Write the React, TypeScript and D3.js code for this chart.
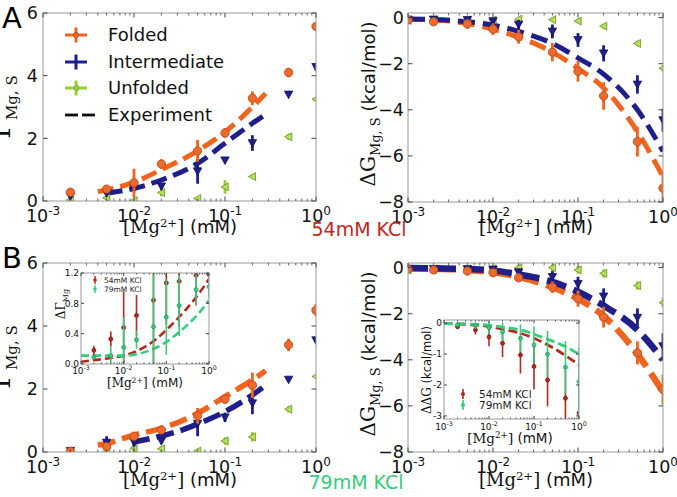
import React from 'react';
import * as d3 from 'd3';

const SANS = "'DejaVu Sans', sans-serif";
const SERIF = "'DejaVu Serif', serif";

const ORANGE = '#f0641e';
const ORANGE_EDGE = '#b8461a';
const NAVY = '#1f1f8c';
const YGREEN = '#9acd32';
const YGREEN_EDGE = '#6b8e23';
const RED = '#b5281e';
const MGREEN = '#36cc7c';

// ---------- data ----------
const X_MAIN = [0.002, 0.005, 0.01, 0.02, 0.05, 0.1, 0.2, 0.5, 1.0];
const X_DG = [0.001, 0.002, 0.005, 0.01, 0.02, 0.05, 0.1, 0.2, 0.5, 1.0];
const X_TICKS = [1e-3, 1e-2, 1e-1, 1];
const X_TICK_EXP = ['-3', '-2', '-1', '0'];

// Panel A left (54mM KCl), Gamma
const foldA_Y = [0.28, 0.38, 0.58, 1.18, 1.6, 2.17, 3.28, 4.1, 5.57];
const foldA_E = [0.06, 0.08, 0.45, 0.15, 0.35, 0.15, 0.22, 0.15, 0.12];
const interA_Y = [0.15, 0.25, 0.4, 0.47, 0.95, 1.3, 1.85, 3.4, 4.28];
const interA_E = [0.05, 0.05, 0.08, 0.08, 0.4, 0.06, 0.25, 0.05, 0.12];
const unfoldA_Y = [0.03, 0.1, 0.01, 0.27, 0.08, 0.45, 0.78, 2.05, 3.25];
const unfoldA_E = [0.04, 0.06, 0.04, 0.12, 0.04, 0.22, 0.06, 0.1, 0.05];
const expFoldA_X = [0.004, 0.006, 0.01, 0.02, 0.05, 0.1, 0.2, 0.28];
const expFoldA_Y = [0.3, 0.4, 0.6, 1.0, 1.6, 2.2, 3.0, 3.43];
const expInterA_X = [0.005, 0.01, 0.02, 0.05, 0.1, 0.2, 0.26];
const expInterA_Y = [0.25, 0.4, 0.67, 1.2, 1.84, 2.48, 2.7];

// Panel A right (54mM KCl), dG
const foldAR_Y = [-0.1, -0.18, -0.28, -0.5, -0.83, -1.5, -2.33, -3.4, -5.38, -7.4];
const foldAR_E = [0.05, 0.06, 0.2, 0.25, 0.3, 0.4, 0.45, 0.6, 0.65, 0.75];
const interAR_Y = [-0.08, -0.08, -0.1, -0.15, -0.3, -0.6, -0.97, -1.55, -2.9, -4.45];
const interAR_E = [0.03, 0.03, 0.05, 0.08, 0.2, 0.3, 0.3, 0.35, 0.4, 0.5];
const unfoldAR_Y = [-0.12, -0.1, -0.1, -0.1, -0.07, -0.09, -0.15, -0.37, -1.12, -2.2];
const unfoldAR_E = [0.05, 0.05, 0.05, 0.05, 0.05, 0.05, 0.08, 0.1, 0.12, 0.15];
const expFoldAR_Y = [-0.07, -0.1, -0.25, -0.5, -0.85, -1.5, -2.2, -3.05, -4.95, -6.9];
const expInterAR_Y = [-0.06, -0.08, -0.18, -0.32, -0.6, -1.12, -1.75, -2.45, -4.0, -5.8];

// Panel B left (79mM KCl), Gamma
const foldB_Y = [0.02, 0.17, 0.5, 0.7, 1.15, 1.68, 2.12, 3.4, 4.5];
const foldB_E = [0.03, 0.1, 0.12, 0.1, 0.25, 0.15, 0.4, 0.2, 0.2];
const interB_Y = [0.04, 0.3, 0.32, 0.35, 0.9, 1.1, 1.55, 2.3, 3.55];
const interB_E = [0.03, 0.2, 0.15, 0.05, 0.4, 0.15, 0.35, 0.05, 0.08];
const unfoldB_Y = [0.0, 0.0, 0.12, 0.1, 0.03, 0.35, 0.48, 1.36, 2.4];
const unfoldB_E = [0.03, 0.03, 0.12, 0.08, 0.04, 0.12, 0.15, 0.1, 0.05];
const expFoldB_X = [0.004, 0.005, 0.01, 0.02, 0.05, 0.1, 0.2, 0.28];
const expFoldB_Y = [0.22, 0.27, 0.54, 0.75, 1.23, 1.76, 2.29, 2.58];
const expInterB_X = [0.0095, 0.02, 0.03, 0.05, 0.1, 0.2, 0.26];
const expInterB_Y = [0.3, 0.51, 0.65, 0.89, 1.28, 1.81, 2.05];

// Panel B right (79mM KCl), dG
const foldBR_Y = [-0.06, -0.1, -0.15, -0.22, -0.44, -0.85, -1.35, -2.15, -3.7, -5.29];
const foldBR_E = [0.03, 0.05, 0.08, 0.1, 0.15, 0.25, 0.35, 0.45, 0.5, 0.65];
const interBR_Y = [-0.05, -0.05, -0.06, -0.08, -0.2, -0.4, -0.7, -1.25, -2.17, -3.41];
const interBR_E = [0.03, 0.03, 0.04, 0.05, 0.12, 0.25, 0.3, 0.35, 0.4, 0.55];
const unfoldBR_Y = [-0.1, -0.08, -0.05, -0.05, 0.0, 0.0, -0.1, -0.25, -0.78, -1.52];
const unfoldBR_E = [0.04, 0.04, 0.05, 0.06, 0.12, 0.14, 0.16, 0.18, 0.18, 0.2];
const expFoldBR_Y = [-0.03, -0.05, -0.1, -0.2, -0.4, -0.85, -1.35, -2.1, -3.75, -5.4];
const expInterBR_Y = [-0.02, -0.03, -0.06, -0.12, -0.3, -0.62, -1.05, -1.65, -2.7, -4.0];

// Inset B left: delta Gamma
const dGam54_Y = [0.18, 0.33, 0.48, 0.64, 0.84, 1.07, 1.09, 1.17, 1.18];
const dGam54_E = [0.06, 0.1, 0.48, 0.27, 0.85, 0.55, 0.6, 0.4, 0.1];
const dGam79_Y = [0.09, 0.11, 0.22, 0.32, 0.49, 0.62, 0.77, 0.98, 1.02];
const dGam79_E = [0.03, 0.12, 0.4, 0.12, 0.9, 0.5, 0.4, 0.2, 0.15];
const expDGam54_Y = [0.03, 0.05, 0.08, 0.11, 0.17, 0.3, 0.45, 0.62, 0.88, 1.12];
const expDGam79_Y = [0.11, 0.11, 0.11, 0.11, 0.13, 0.2, 0.29, 0.42, 0.63, 0.84];

// Inset B right: delta delta G
const ddG54_Y = [-0.12, -0.22, -0.45, -0.65, -1.03, -1.4, -1.84, -2.43, -2.91];
const ddG54_E = [0.05, 0.15, 0.3, 0.45, 0.6, 0.75, 0.85, 0.9, 1.0];
const ddG79_Y = [-0.05, -0.08, -0.15, -0.28, -0.49, -0.71, -1.0, -1.43, -1.89];
const ddG79_E = [0.05, 0.1, 0.2, 0.3, 0.45, 0.6, 0.75, 0.85, 1.1];
const expDD54_Y = [-0.02, -0.03, -0.06, -0.11, -0.2, -0.33, -0.49, -0.7, -1.05, -1.35];
const expDD79_Y = [-0.02, -0.02, -0.04, -0.07, -0.13, -0.22, -0.36, -0.52, -0.76, -1.0];

const GAMMA_TICKS = [0, 2, 4, 6];
const DG_TICKS = [0, -2, -4, -6, -8];
const DGAM_TICKS = [0, 0.4, 0.8, 1.2];
const DDG_TICKS = [0, -1, -2, -3];

// ---------- types ----------
type MarkerKind = 'circle' | 'down' | 'left';
interface SeriesDef {
  xs: number[]; ys: number[]; errs: number[];
  color: string; fill: string; edge: string; marker: MarkerKind; r: number; ew: number;
}
interface ExpDef { xs: number[]; ys: number[]; color: string; width: number; dash: string; }

function markerPath(kind: MarkerKind, x: number, y: number, r: number): string {
  if (kind === 'down') return `M${x - r},${y - r * 0.8}L${x + r},${y - r * 0.8}L${x},${y + r}Z`;
  if (kind === 'left') return `M${x - r},${y}L${x + r * 0.8},${y - r}L${x + r * 0.8},${y + r}Z`;
  return '';
}

function Marker({ kind, x, y, r, fill, edge }: { kind: MarkerKind; x: number; y: number; r: number; fill: string; edge: string }) {
  if (kind === 'circle') return <circle cx={x} cy={y} r={r} fill={fill} stroke={edge} strokeWidth={0.8} />;
  return <path d={markerPath(kind, x, y, r)} fill={fill} stroke={edge} strokeWidth={0.8} />;
}

interface PanelProps {
  id: string; x0: number; x1: number; y0: number; y1: number;
  yDomain: [number, number]; yTicks: number[]; yFmt: (v: number) => string;
  tickFont: number; supFont: number; supDy: number; xTickOff: number; yTickGap: number;
  majorLen: number; minorLen: number;
  series: SeriesDef[]; exps: ExpDef[]; bg?: boolean;
}

function Panel(p: PanelProps) {
  const sx = d3.scaleLog().domain([1e-3, 1]).range([p.x0, p.x1]);
  const sy = d3.scaleLinear().domain(p.yDomain).range([p.y1, p.y0]);
  const clipId = `clip-${p.id}`;
  const minors: number[] = [];
  for (const d of [1e-3, 1e-2, 1e-1]) for (let k = 2; k < 10; k++) minors.push(d * k);
  const line = d3.line<[number, number]>().x(d => sx(d[0])).y(d => sy(d[1])).curve(d3.curveMonotoneX);
  const tickColor = '#444';
  return (
    <g>
      <defs>
        <clipPath id={clipId}>
          <rect x={p.x0} y={p.y0} width={p.x1 - p.x0} height={p.y1 - p.y0} />
        </clipPath>
      </defs>
      {p.bg && <rect x={p.x0} y={p.y0} width={p.x1 - p.x0} height={p.y1 - p.y0} fill="#fff" />}
      <g clipPath={`url(#${clipId})`}>
        {p.exps.map((e, k) => (
          <path key={`e${k}`} d={line(e.xs.map((x, i) => [x, e.ys[i]] as [number, number])) || ''}
            fill="none" stroke={e.color} strokeWidth={e.width} strokeDasharray={e.dash} />
        ))}
        {p.series.map((s, k) => (
          <g key={`s${k}`}>
            {s.xs.map((x, i) => (
              <line key={`b${i}`} x1={sx(x)} x2={sx(x)} y1={sy(s.ys[i] - s.errs[i])} y2={sy(s.ys[i] + s.errs[i])}
                stroke={s.color} strokeWidth={s.ew} />
            ))}
            {s.xs.map((x, i) => (
              <Marker key={`m${i}`} kind={s.marker} x={sx(x)} y={sy(s.ys[i])} r={s.r} fill={s.fill} edge={s.edge} />
            ))}
          </g>
        ))}
      </g>
      <rect x={p.x0} y={p.y0} width={p.x1 - p.x0} height={p.y1 - p.y0} fill="none" stroke="#9a9a9a" strokeWidth={1} />
      {X_TICKS.map((t, i) => (
        <g key={`xt${i}`}>
          <line x1={sx(t)} x2={sx(t)} y1={p.y1} y2={p.y1 - p.majorLen} stroke={tickColor} strokeWidth={1} />
          <line x1={sx(t)} x2={sx(t)} y1={p.y0} y2={p.y0 + p.majorLen} stroke={tickColor} strokeWidth={1} />
          <text x={sx(t)} y={p.y1 + p.xTickOff} textAnchor="middle" fontFamily={SANS} fontSize={p.tickFont} fill="#111">
            10<tspan fontSize={p.supFont} dy={-p.supDy}>{X_TICK_EXP[i]}</tspan>
          </text>
        </g>
      ))}
      {minors.map((t, i) => (
        <g key={`xm${i}`}>
          <line x1={sx(t)} x2={sx(t)} y1={p.y1} y2={p.y1 - p.minorLen} stroke={tickColor} strokeWidth={0.8} />
          <line x1={sx(t)} x2={sx(t)} y1={p.y0} y2={p.y0 + p.minorLen} stroke={tickColor} strokeWidth={0.8} />
        </g>
      ))}
      {p.yTicks.map((t, i) => (
        <g key={`yt${i}`}>
          <line x1={p.x0} x2={p.x0 + p.majorLen} y1={sy(t)} y2={sy(t)} stroke={tickColor} strokeWidth={1} />
          <line x1={p.x1} x2={p.x1 - p.majorLen} y1={sy(t)} y2={sy(t)} stroke={tickColor} strokeWidth={1} />
          <text x={p.x0 - p.yTickGap} y={sy(t)} dy="0.36em" textAnchor="end" fontFamily={SANS} fontSize={p.tickFont} fill="#111">
            {p.yFmt(t)}
          </text>
        </g>
      ))}
    </g>
  );
}

const fmtInt = (v: number) => (v < 0 ? `\u2212${Math.abs(v)}` : `${v}`);
const fmtHyph = (v: number) => (v < 0 ? `-${Math.abs(v)}` : `${v}`);
const fmt1 = (v: number) => v.toFixed(1);

function mainSeries(xs: number[], f: number[], fe: number[], m: number[], me: number[], u: number[], ue: number[]): SeriesDef[] {
  return [
    { xs, ys: u, errs: ue, color: YGREEN, fill: '#b5e05a', edge: YGREEN_EDGE, marker: 'left', r: 4, ew: 2.8 },
    { xs, ys: m, errs: me, color: NAVY, fill: NAVY, edge: '#10105a', marker: 'down', r: 4.2, ew: 2.8 },
    { xs, ys: f, errs: fe, color: ORANGE, fill: '#ec6a2c', edge: ORANGE_EDGE, marker: 'circle', r: 4.2, ew: 2.8 },
  ];
}

function XLabel({ x, y, size }: { x: number; y: number; size: number }) {
  const up = size * 0.34;
  return (
    <text x={x} y={y} textAnchor="middle" fontSize={size} fill="#111">
      <tspan fontFamily={SERIF}>[Mg</tspan>
      <tspan fontFamily={SERIF} fontSize={size * 0.65} dy={-up}>2+</tspan>
      <tspan fontFamily={SERIF} dy={up}>]</tspan>
      <tspan fontFamily={SANS}> (mM)</tspan>
    </text>
  );
}

function GammaLabel({ x, y }: { x: number; y: number }) {
  return (
    <text transform={`translate(${x},${y}) rotate(-90)`} textAnchor="middle" fill="#111" fontFamily={SERIF}>
      <tspan fontSize={27}>Γ</tspan>
      <tspan fontSize={15} dy={7}>Mg, S</tspan>
    </text>
  );
}

function DGLabel({ x, y }: { x: number; y: number }) {
  return (
    <text transform={`translate(${x},${y}) rotate(-90)`} textAnchor="middle" fill="#111">
      <tspan fontFamily={SERIF} fontSize={20}>ΔG</tspan>
      <tspan fontFamily={SERIF} fontSize={13} dy={5}>Mg, S</tspan>
      <tspan fontFamily={SANS} fontSize={18} dy={-5}> (kcal/mol)</tspan>
    </text>
  );
}

function LegendItem({ y, color, fill, edge, kind, label }: { y: number; color: string; fill: string; edge: string; kind: MarkerKind; label: string }) {
  return (
    <g>
      <line x1={65} x2={87} y1={y} y2={y} stroke={color} strokeWidth={3} />
      <line x1={76} x2={76} y1={y - 7.5} y2={y + 7.5} stroke={color} strokeWidth={3} />
      {kind !== 'down' && <Marker kind={kind} x={76} y={y} r={2.6} fill={fill} edge={edge} />}
      <text x={108} y={y} dy="0.36em" fontFamily={SANS} fontSize={18} fill="#111">{label}</text>
    </g>
  );
}

export default function App() {
  const mainCommon = { tickFont: 17.5, supFont: 12, supDy: 7, xTickOff: 20.5, majorLen: 4.5, minorLen: 2.5 };
  const insetCommon = { tickFont: 9, supFont: 6.3, supDy: 3.8, majorLen: 3, minorLen: 1.6 };

  const seriesA = mainSeries(X_MAIN, foldA_Y, foldA_E, interA_Y, interA_E, unfoldA_Y, unfoldA_E);
  const seriesAR = mainSeries(X_DG, foldAR_Y, foldAR_E, interAR_Y, interAR_E, unfoldAR_Y, unfoldAR_E);
  const seriesB = mainSeries(X_MAIN, foldB_Y, foldB_E, interB_Y, interB_E, unfoldB_Y, unfoldB_E);
  const seriesBR = mainSeries(X_DG, foldBR_Y, foldBR_E, interBR_Y, interBR_E, unfoldBR_Y, unfoldBR_E);

  const insetSeriesL: SeriesDef[] = [
    { xs: X_MAIN, ys: dGam54_Y, errs: dGam54_E, color: RED, fill: RED, edge: '#7a1a12', marker: 'circle', r: 2, ew: 1.6 },
    { xs: X_MAIN, ys: dGam79_Y, errs: dGam79_E, color: MGREEN, fill: MGREEN, edge: '#22995a', marker: 'circle', r: 2, ew: 1.6 },
  ];
  const insetSeriesR: SeriesDef[] = [
    { xs: X_MAIN, ys: ddG54_Y, errs: ddG54_E, color: RED, fill: RED, edge: '#7a1a12', marker: 'circle', r: 2, ew: 1.6 },
    { xs: X_MAIN, ys: ddG79_Y, errs: ddG79_E, color: MGREEN, fill: MGREEN, edge: '#22995a', marker: 'circle', r: 2, ew: 1.6 },
  ];

  return (
    <svg width={677} height={497} viewBox="0 0 677 497" style={{ position: 'absolute', left: 0, top: 0, display: 'block' }}>
      <rect x={0} y={0} width={677} height={497} fill="#fff" />

      <Panel id="al" x0={43} x1={316} y0={13} y1={201} yDomain={[0, 6]} yTicks={GAMMA_TICKS} yFmt={fmtInt}
        yTickGap={5} {...mainCommon} series={seriesA}
        exps={[
          { xs: expFoldA_X, ys: expFoldA_Y, color: ORANGE, width: 5, dash: '16 7' },
          { xs: expInterA_X, ys: expInterA_Y, color: NAVY, width: 5, dash: '16 7' },
        ]} />
      <Panel id="ar" x0={408} x1={663} y0={13} y1={202} yDomain={[-8, 0.2]} yTicks={DG_TICKS} yFmt={fmtInt}
        yTickGap={4} {...mainCommon} series={seriesAR}
        exps={[
          { xs: X_DG, ys: expFoldAR_Y, color: ORANGE, width: 5, dash: '17 8' },
          { xs: X_DG, ys: expInterAR_Y, color: NAVY, width: 5, dash: '17 8' },
        ]} />
      <Panel id="bl" x0={43} x1={316} y0={263} y1={452} yDomain={[0, 6]} yTicks={GAMMA_TICKS} yFmt={fmtInt}
        yTickGap={5} {...mainCommon} series={seriesB}
        exps={[
          { xs: expFoldB_X, ys: expFoldB_Y, color: ORANGE, width: 5.5, dash: '18 7' },
          { xs: expInterB_X, ys: expInterB_Y, color: NAVY, width: 5.5, dash: '18 7' },
        ]} />
      <Panel id="br" x0={408} x1={663} y0={263} y1={452} yDomain={[-8, 0.2]} yTicks={DG_TICKS} yFmt={fmtInt}
        yTickGap={4} {...mainCommon} series={seriesBR}
        exps={[
          { xs: X_DG, ys: expFoldBR_Y, color: ORANGE, width: 6.5, dash: '20 8' },
          { xs: X_DG, ys: expInterBR_Y, color: NAVY, width: 6.5, dash: '20 8' },
        ]} />

      <Panel id="il" x0={81} x1={209} y0={273} y1={364} yDomain={[0, 1.2]} yTicks={DGAM_TICKS} yFmt={fmt1}
        yTickGap={2} xTickOff={10} {...insetCommon} series={insetSeriesL} bg
        exps={[
          { xs: X_DG, ys: expDGam54_Y, color: RED, width: 2.6, dash: '8 4' },
          { xs: X_DG, ys: expDGam79_Y, color: MGREEN, width: 2.6, dash: '8 4' },
        ]} />
      <Panel id="ir" x0={444} x1={579} y0={320} y1={419} yDomain={[-3.1, 0.1]} yTicks={DDG_TICKS} yFmt={fmtHyph}
        yTickGap={2} xTickOff={11} {...insetCommon} series={insetSeriesR} bg
        exps={[
          { xs: X_DG, ys: expDD54_Y, color: RED, width: 2.8, dash: '9 4' },
          { xs: X_DG, ys: expDD79_Y, color: MGREEN, width: 2.8, dash: '9 4' },
        ]} />

      <g>
        <line x1={95} x2={95} y1={276} y2={284} stroke={RED} strokeWidth={1.4} />
        <circle cx={95} cy={280} r={1.8} fill={RED} />
        <text x={104} y={280} dy="0.36em" fontFamily={SANS} fontSize={7.5} fill="#222">54mM KCl</text>
        <line x1={95} x2={95} y1={285} y2={293} stroke={MGREEN} strokeWidth={1.4} />
        <circle cx={95} cy={289} r={1.8} fill={MGREEN} />
        <text x={104} y={289} dy="0.36em" fontFamily={SANS} fontSize={7.5} fill="#222">79mM KCl</text>
      </g>
      <g>
        <line x1={463} x2={463} y1={389} y2={399} stroke={RED} strokeWidth={1.6} />
        <circle cx={463} cy={394} r={2} fill={RED} />
        <text x={479} y={394} dy="0.36em" fontFamily={SANS} fontSize={10.5} fill="#222">54mM KCl</text>
        <line x1={463} x2={463} y1={400} y2={410} stroke={MGREEN} strokeWidth={1.6} />
        <circle cx={463} cy={405} r={2} fill={MGREEN} />
        <text x={479} y={405} dy="0.36em" fontFamily={SANS} fontSize={10.5} fill="#222">79mM KCl</text>
      </g>

      <text transform="translate(65,304) rotate(-90)" textAnchor="middle" fill="#111" fontFamily={SERIF}>
        <tspan fontSize={12}>ΔΓ</tspan>
        <tspan fontSize={8} dy={2.5}>Mg</tspan>
      </text>
      <XLabel x={145} y={387} size={12} />
      <text transform="translate(431,370) rotate(-90)" textAnchor="middle" fill="#111">
        <tspan fontFamily={SERIF} fontSize={12}>ΔΔG</tspan>
        <tspan fontFamily={SANS} fontSize={11.5}> (kcal/mol)</tspan>
      </text>
      <XLabel x={510} y={443} size={13.5} />

      <LegendItem y={35} color={ORANGE} fill="#ec6a2c" edge={ORANGE_EDGE} kind="circle" label="Folded" />
      <LegendItem y={62} color={NAVY} fill={NAVY} edge={NAVY} kind="down" label="Intermediate" />
      <LegendItem y={88} color={YGREEN} fill="#b5e05a" edge={YGREEN_EDGE} kind="left" label="Unfolded" />
      <g>
        <line x1={65} x2={78} y1={115} y2={115} stroke="#111" strokeWidth={2.8} />
        <line x1={82} x2={95} y1={115} y2={115} stroke="#111" strokeWidth={2.8} />
        <text x={108} y={115} dy="0.36em" fontFamily={SANS} fontSize={18} fill="#111">Experiment</text>
      </g>

      <GammaLabel x={10} y={107} />
      <GammaLabel x={10} y={357} />
      <DGLabel x={375} y={104} />
      <DGLabel x={375} y={354} />
      <XLabel x={180} y={233} size={18} />
      <XLabel x={536} y={233} size={18} />
      <XLabel x={180} y={486} size={18} />
      <XLabel x={536} y={486} size={18} />

      <text x={2} y={28} fontFamily={SANS} fontSize={29} fill="#000">A</text>
      <text x={2} y={268} fontFamily={SANS} fontSize={29} fill="#000">B</text>
      <text x={359} y={236} textAnchor="middle" fontFamily={SANS} fontSize={19} fill="#c0281c">54mM KCl</text>
      <text x={356} y={489} textAnchor="middle" fontFamily={SANS} fontSize={19} fill={MGREEN}>79mM KCl</text>
    </svg>
  );
}
